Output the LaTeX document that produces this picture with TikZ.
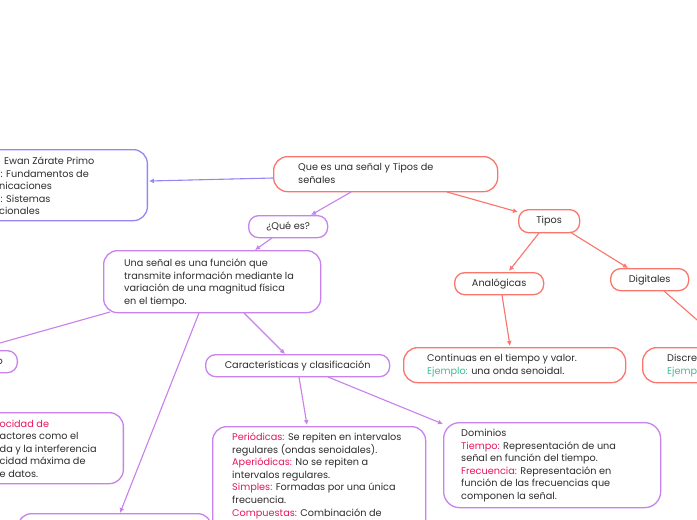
\documentclass[tikz,border=0pt]{standalone}
\usepackage{fontspec}
\setmainfont{Poppins}
\usetikzlibrary{arrows.meta,calc}
\definecolor{redc}{RGB}{250,118,108}
\definecolor{purc}{RGB}{200,130,238}
\definecolor{peric}{RGB}{150,136,244}
\definecolor{hlc}{RGB}{232,22,92}
\definecolor{tealc}{RGB}{58,192,150}
\definecolor{txtc}{RGB}{45,45,45}
\tikzset{
  box/.style={draw, line width=1.3pt, fill=white, inner sep=0pt, rounded corners=#1, text=txtc, font=\fontsize{9.7}{12.6}\selectfont},
  box/.default=10pt,
  txt/.style={inner sep=0pt, align=left, text=txtc, font=\fontsize{9.7}{12.6}\selectfont},
  conn/.style={line width=1.1pt, -{Latex[length=5pt,width=5pt]}},
}
\begin{document}
\begin{tikzpicture}[x=1pt,y=-1pt]
\useasboundingbox (0,0) rectangle (697,520);
\fill[white] (0,0) rectangle (697,520);
\clip (0,0) rectangle (697,520);

% boxes
\node[box=14pt, draw=peric, minimum width=210pt, minimum height=71pt, anchor=north east] (info) at (148,149) {};
\node[box=14pt, draw=redc, minimum width=224pt, minimum height=35pt, anchor=north west] (que) at (273,156) {};
\node[box, draw=purc, minimum width=79pt, minimum height=22pt, anchor=north west] (quees) at (248,215) {¿Qué es?};
\node[box=14pt, draw=purc, minimum width=217pt, minimum height=62pt, anchor=north west] (una) at (103,250) {};
\node[box, draw=purc, minimum width=80pt, minimum height=22pt, anchor=north east] (lsmall) at (18,350) {};
\node[box=14pt, draw=purc, minimum width=200pt, minimum height=71pt, anchor=north east] (lvel) at (124,412) {};
\node[box=14pt, draw=purc, minimum width=194pt, minimum height=60pt, anchor=north west] (bottom) at (17,513) {};
\node[box, draw=purc, minimum width=184pt, minimum height=22pt, anchor=north west] (carac) at (205,354) {Características y clasificación};
\node[box=14pt, draw=purc, minimum width=213pt, minimum height=120pt, anchor=north west] (period) at (212,426) {};
\node[box=16pt, draw=purc, minimum width=217pt, minimum height=85pt, anchor=north west] (dom) at (443,422) {};
\node[box, draw=redc, minimum width=61pt, minimum height=23pt, anchor=north west] (tipos) at (518,209) {Tipos};
\node[box, draw=redc, minimum width=89pt, minimum height=22pt, anchor=north west] (analog) at (454,272) {Analógicas};
\node[box, draw=redc, minimum width=78pt, minimum height=22pt, anchor=north west] (digit) at (610,268) {Digitales};
\node[box=14pt, draw=redc, minimum width=222pt, minimum height=35pt, anchor=north west] (cont) at (403,347) {};
\node[box=14pt, draw=redc, minimum width=150pt, minimum height=35pt, anchor=north west] (discr) at (642,347) {};

% texts (base anchor = baseline of the last line)
\node[txt, anchor=base west] (info1) at (4,164.5) {Ewan Zárate Primo};
\node[txt, anchor=base west] (info2) at (0.5,177) {: Fundamentos de};
\node[txt, anchor=base west] (info3) at (-1,189.5) {nicaciones};
\node[txt, anchor=base west] (info4) at (0.5,202) {: Sistemas};
\node[txt, anchor=base west] (info5) at (-1,214.5) {cionales};
\node[txt, anchor=base west] (quet) at (298,183) {Que es una señal y Tipos de\\señales};
\node[txt, anchor=base west] (unat) at (124,304.5) {Una señal es una función que\\transmite información mediante la\\variación de una magnitud física\\en el tiempo.};
\node[txt, anchor=base east] (lsmallt) at (3,364) {o};
\node[txt, anchor=base west] (lvelt) at (-0.5,477.5) {\textcolor{hlc}{ocidad de}\\actores como el\\da y la interferencia\\cidad máxima de\\e datos.};
\node[txt, anchor=base west] (periodt) at (232,516) {\textcolor{hlc}{Periódicas:} Se repiten en intervalos\\regulares (ondas senoidales).\\\textcolor{hlc}{Aperiódicas:} No se repiten a\\intervalos regulares.\\\textcolor{hlc}{Simples:} Formadas por una única\\frecuencia.\\\textcolor{hlc}{Compuestas:} Combinación de};
\node[txt, anchor=base west] (domt) at (461,499.5) {Dominios\\\textcolor{hlc}{Tiempo:} Representación de una\\señal en función del tiempo.\\\textcolor{hlc}{Frecuencia:} Representación en\\función de las frecuencias que\\componen la señal.};
\node[txt, anchor=base west] (contt) at (427,374.5) {Continuas en el tiempo y valor.\\\textcolor{tealc}{Ejemplo:} una onda senoidal.};
\node[txt, anchor=base west] (discrt) at (667,374.5) {Discre\\\textcolor{tealc}{Ejempl}};

% connectors
\draw[conn, draw=peric, fill=peric] ($(que.north west)+(0,22)$) -- ($(info.north east)+(1,32)$);
\draw[conn, draw=purc, fill=purc] ($(que.north west)+(78,36)$) -- ($(quees.north west)+(63,0)$);
\draw[conn, draw=purc, fill=purc] ($(quees.north west)+(24,23)$) -- ($(una.north west)+(152,0)$);
\draw[conn, draw=purc, fill=purc] ($(una.north west)+(7,62)$) -- ($(lsmall.north east)+(-43,0)$);
\draw[conn, draw=purc, fill=purc] ($(una.north west)+(96,63)$) -- ($(bottom.north west)+(103,0)$);
\draw[conn, draw=purc, fill=purc] ($(una.north west)+(141,63)$) -- ($(carac.north west)+(80,0)$);
\draw[conn, draw=purc, fill=purc] ($(carac.north west)+(94,23)$) -- ($(period.north west)+(95,-1)$);
\draw[conn, draw=purc, fill=purc] ($(carac.north west)+(123,23)$) -- ($(dom.north west)+(0,2)$);
\draw[conn, draw=redc, fill=redc] ($(que.north west)+(174,36)$) -- ($(tipos.north west)+(0,3)$);
\draw[conn, draw=redc, fill=redc] ($(tipos.north west)+(21,24)$) -- ($(analog.north west)+(55,-1)$);
\draw[conn, draw=redc, fill=redc] ($(tipos.north west)+(52,23)$) -- ($(digit.north west)+(18,0)$);
\draw[conn, draw=redc, fill=redc] ($(analog.north west)+(48,23)$) -- ($(cont.north west)+(107,-1)$);
\draw[conn, draw=redc, fill=redc] ($(digit.north west)+(54,23)$) -- ($(discr.north west)+(86,0)$);
\end{tikzpicture}
\end{document}
